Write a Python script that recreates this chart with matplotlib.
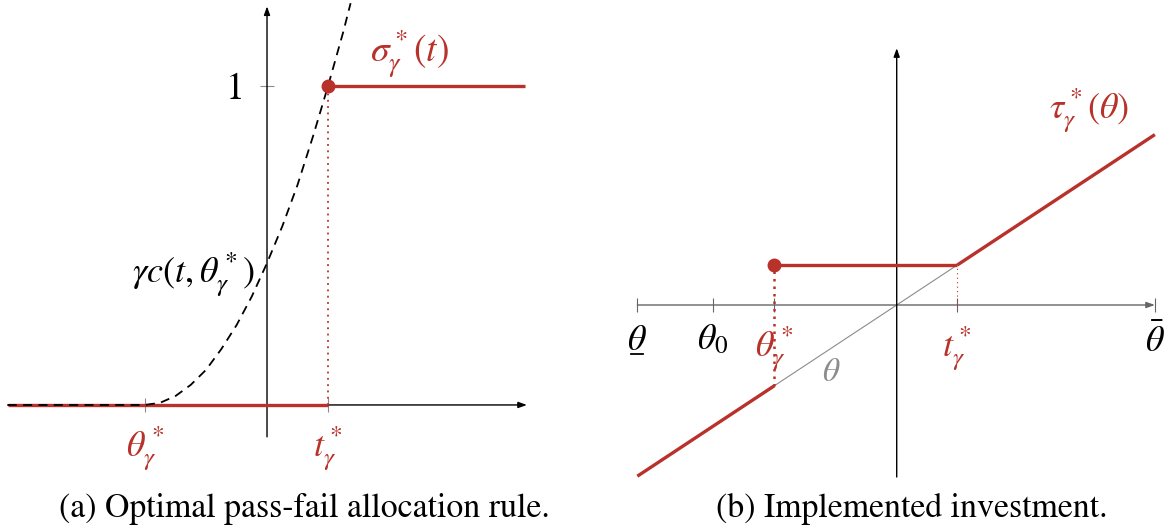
import numpy as np
import matplotlib
matplotlib.use("Agg")
import matplotlib.pyplot as plt
from matplotlib.transforms import offset_copy

plt.rcParams["font.family"] = "STIXGeneral"
plt.rcParams["mathtext.fontset"] = "stix"

RED = "#b8312a"
GREY = "#8c8c8c"
AXGREY = "#666666"
LABEL_FS = 26
CAPTION_FS = 24.3

# ------------------------------------------------------------
# Panel (a): pass-fail rule sigma*(t) and the cost curve
# ------------------------------------------------------------
a_t_axis = (-4.25, 4.26)
a_y_axis = (-0.10, 1.25)
a_theta_star = -2.0
a_t_star = 1.0

# gamma * c(t, theta*)
cost_t = [-4.25, -2.0, -1.75, -1.5, -1.25, -1.0, -0.75, -0.5, -0.25,
          0.0, 0.25, 0.5, 0.75, 1.0, 1.25, 1.37]
cost_y = [0.0, 0.0, 0.007, 0.028, 0.063, 0.11, 0.175, 0.25, 0.34,
          0.445, 0.56, 0.69, 0.84, 1.0, 1.17, 1.26]

sigma_fail_t = [-4.25, 1.0]
sigma_fail_y = [0.0, 0.0]
sigma_pass_t = [1.0, 4.23]
sigma_pass_y = [1.0, 1.0]

# ------------------------------------------------------------
# Panel (b): implemented investment tau*(theta)
# ------------------------------------------------------------
b_theta_lo = -4.28
b_theta_0 = -3.03
b_theta_star = -2.02
b_t_star = 1.0
b_theta_hi = 4.26
b_y_axis = (-4.3, 6.42)

tau_low_x = [b_theta_lo, b_theta_star]
tau_low_y = [b_theta_lo, b_theta_star]
tau_flat_x = [b_theta_star, b_t_star]
tau_flat_y = [b_t_star, b_t_star]
tau_high_x = [b_t_star, b_theta_hi]
tau_high_y = [b_t_star, b_theta_hi]
diag_x = [b_theta_star, b_t_star]
diag_y = [b_theta_star, b_t_star]

W, H = 1173, 531
fig = plt.figure(figsize=(W / 100, H / 100), dpi=100)


def place(left, top, right, bottom):
    return fig.add_axes([left / W, 1 - bottom / H, (right - left) / W, (bottom - top) / H])


def clean(ax):
    for s in ax.spines.values():
        s.set_color("none")
    ax.patch.set_alpha(0)


def arrow(ax, start, end, color):
    ax.annotate("", xy=end, xytext=start,
                arrowprops=dict(arrowstyle="-|>,head_length=0.5,head_width=0.18",
                                color=color, lw=1.0, shrinkA=0, shrinkB=0),
                annotation_clip=False)


# ---------------- panel (a)
ax = place(0, 0, 540, 470)
clean(ax)
ax.set_xlim(-4.377, 4.475)
ax.set_ylim(-0.204, 1.270)
ax.spines["bottom"].set_position(("data", 0))
ax.spines["left"].set_position(("data", 0))

arrow(ax, (a_t_axis[0], 0), (a_t_axis[1], 0), "black")
arrow(ax, (0, a_y_axis[0]), (0, a_y_axis[1]), "black")

ax.plot(sigma_fail_t, sigma_fail_y, color=RED, lw=2.4, solid_capstyle="butt", zorder=3)
ax.plot(sigma_pass_t, sigma_pass_y, color=RED, lw=2.4, solid_capstyle="butt", zorder=3)
ax.plot([a_t_star, a_t_star], [0, 1], color=RED, lw=1.3, ls=(0, (1, 2.5)), zorder=3)
ax.plot(cost_t, cost_y, color="black", lw=1.3, ls=(0, (5, 3.5)), zorder=4)
ax.plot([a_t_star], [1], "o", color=RED, ms=9, zorder=5)

ax.set_xticks([a_theta_star, a_t_star])
ax.set_xticklabels([r"$\theta^*_\gamma$", r"$t^*_\gamma$"], fontsize=LABEL_FS)
for lab in ax.get_xticklabels():
    lab.set_color(RED)
ax.set_yticks([1])
ax.set_yticklabels(["1"], fontsize=27)
ax.tick_params(axis="x", direction="inout", length=10, width=0.8, color=GREY, pad=9)
ax.tick_params(axis="y", direction="inout", length=10, width=0.8, color=GREY, pad=11)

ax.text(-0.21, 0.41, r"$\gamma c(t,\theta^*_\gamma)$", fontsize=LABEL_FS, ha="right", va="center")
ax.text(2.34, 1.10, r"$\sigma^*_\gamma(t)$", fontsize=27, ha="center", va="center", color=RED)

# ---------------- panel (b)
bx = place(600, 0, 1173, 490)
clean(bx)
bx.set_xlim(-4.896, 4.559)
bx.set_ylim(-4.625, 7.625)
bx.spines["bottom"].set_position(("data", 0))

arrow(bx, (b_theta_lo, 0), (b_theta_hi, 0), AXGREY)
arrow(bx, (0, b_y_axis[0]), (0, b_y_axis[1]), "black")

bx.plot(diag_x, diag_y, color=GREY, lw=0.8, zorder=2)
bx.plot(tau_low_x, tau_low_y, color=RED, lw=2.4, solid_capstyle="butt", zorder=3)
bx.plot(tau_flat_x, tau_flat_y, color=RED, lw=2.4, solid_capstyle="butt", zorder=3)
bx.plot(tau_high_x, tau_high_y, color=RED, lw=2.4, solid_capstyle="butt", zorder=3)
bx.plot([b_theta_star, b_theta_star], [b_theta_star, b_t_star], color=RED, lw=1.8,
        ls=(0, (1, 2)), zorder=3)
bx.plot([b_t_star, b_t_star], [0, b_t_star], color=RED, lw=0.8, ls=(0, (1, 3)), zorder=3)
bx.plot([b_theta_star], [b_t_star], "o", color=RED, ms=9, zorder=5)

bx.set_xticks([b_theta_lo, b_theta_0, b_theta_star, b_t_star, b_theta_hi])
bx.set_xticklabels([r"$\theta$", r"$\theta_0$", r"$\theta^*_\gamma$",
                    r"$t^*_\gamma$", r"$\bar{\theta}$"], fontsize=LABEL_FS)
for lab, c in zip(bx.get_xticklabels(), ["black", "black", RED, RED, "black"]):
    lab.set_color(c)
bx.set_yticks([])
bx.tick_params(axis="x", direction="inout", length=10, width=0.8, color=AXGREY, pad=9)

# underline under the lower bound label
under = offset_copy(bx.transData, fig=fig, x=0, y=-35, units="points")
bx.plot([b_theta_lo - 0.11, b_theta_lo + 0.09], [0, 0], color="black", lw=1.3,
        transform=under, clip_on=False)

bx.text(-1.08, -1.7, r"$\theta$", fontsize=24, ha="center", va="center", color=GREY)
bx.text(3.17, 4.87, r"$\tau^*_\gamma(\theta)$", fontsize=LABEL_FS, ha="center", va="center",
        color=RED)

# captions
fig.text(304 / W, 1 - 509 / H, "(a) Optimal pass-fail allocation rule.", fontsize=CAPTION_FS,
         ha="center", va="center")
fig.text(912 / W, 1 - 509 / H, "(b) Implemented investment.", fontsize=CAPTION_FS,
         ha="center", va="center")

fig.savefig("out.png", dpi=100)
